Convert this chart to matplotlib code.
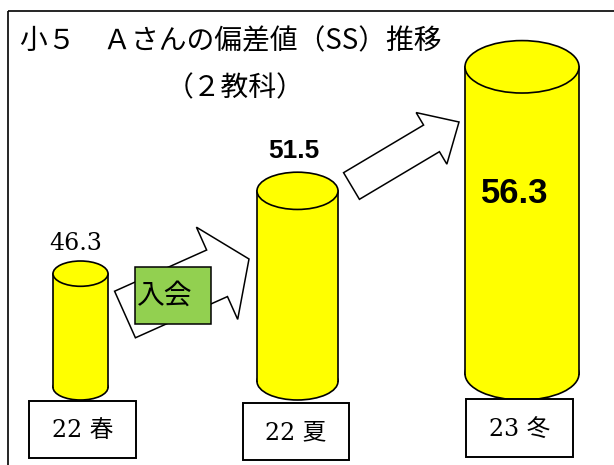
import numpy as np
import matplotlib
matplotlib.use("Agg")
import matplotlib.pyplot as plt
from matplotlib.patches import Ellipse, Rectangle, Polygon

# data
terms = ["22 春", "22 夏", "23 冬"]
scores = [46.3, 51.5, 56.3]
title1 = "小５　Ａさんの偏差値（SS）推移"
title2 = "（２教科）"
badge = "入会"

W, H = 614, 465
BASE = 400  # pixel row where the cylinders stand

fig = plt.figure(figsize=(W / 100, H / 100), dpi=100)
ax = fig.add_axes([0, 0, 1, 1])
ax.set_xlim(0, W)
ax.set_ylim(H, 0)
ax.axis("off")

# value axis: cylinders grow exponentially with the score in the original
k, v_ref, h_ref = 0.095, 46.3, 139.0
fwd = lambda v: np.exp(k * (np.asarray(v, float) - v_ref))
inv = lambda y: np.log(np.maximum(np.asarray(y, float), 1e-12)) / k + v_ref
axv = fig.add_axes([0, (H - BASE) / H, 1, BASE / H])
axv.set_yscale("function", functions=(fwd, inv))
axv.set_xlim(0, W)
axv.set_ylim(inv(1e-6), inv(BASE / h_ref))
axv.axis("off")
axv.patch.set_alpha(0)

def to_px(x, v):
    disp = axv.transData.transform((x, v))
    return ax.transData.inverted().transform(disp)

# frame (only top and left edges visible)
ax.plot([8, W], [11, 11], color="black", lw=1.2, solid_capstyle="butt")
ax.plot([8, 8], [11, H], color="black", lw=1.2, solid_capstyle="butt")

# titles
jp = "Noto Sans CJK JP"
ax.text(20, 41, title1, fontsize=20, family=[jp], va="center", ha="left")
ax.text(166, 88, title2, fontsize=20, family=[jp], va="center", ha="left")

def block_arrow(tail, tip, shaft_w, head_w, head_len):
    tail = np.array(tail, float); tip = np.array(tip, float)
    d = tip - tail
    d = d / np.hypot(*d)
    n = np.array([d[1], -d[0]])  # points "up" on screen for rightward arrows
    base = tip - d * head_len
    pts = [tail + n * shaft_w / 2, base + n * shaft_w / 2, base + n * head_w / 2,
           tip, base - n * head_w / 2, base - n * shaft_w / 2, tail - n * shaft_w / 2]
    return Polygon(pts, closed=True, facecolor="white", edgecolor="black", lw=1.1, zorder=2)

ax.add_patch(block_arrow((125, 314.5), (249, 259), 51, 101, 35))
ax.add_patch(block_arrow((351.5, 186), (459, 122), 31, 60, 32))

# 入会 badge
ax.add_patch(Rectangle((135, 267), 76, 57, facecolor="#92D050", edgecolor="black", lw=1.1, zorder=3))
ax.text(137, 296, badge, fontsize=20, family=["DejaVu Serif", jp], va="center", ha="left", zorder=4)

# cylinders
centers = [80.5, 297.5, 522]
widths = [55, 81, 114]
yellow = "#FFFF00"
for cx, w, v in zip(centers, widths, scores):
    ry = 0.23 * w
    top_edge = to_px(cx, v)[1]
    top_c = top_edge + ry
    bot_c = BASE - ry
    ax.add_patch(Ellipse((cx, bot_c), w, 2 * ry, facecolor=yellow, edgecolor="black", lw=1.2, zorder=5))
    ax.add_patch(Rectangle((cx - w / 2, top_c), w, bot_c - top_c, facecolor=yellow, edgecolor="none", zorder=6))
    ax.plot([cx - w / 2, cx - w / 2], [top_c, bot_c], color="black", lw=1.2, zorder=7)
    ax.plot([cx + w / 2, cx + w / 2], [top_c, bot_c], color="black", lw=1.2, zorder=7)
    ax.add_patch(Ellipse((cx, top_c), w, 2 * ry, facecolor=yellow, edgecolor="black", lw=1.2, zorder=8))

# score labels
ax.text(76, 243, f"{scores[0]}", fontsize=17, family="DejaVu Serif", ha="center", va="center", zorder=9)
ax.text(294, 151, f"{scores[1]}", fontsize=19, family="Liberation Sans", weight="bold",
        ha="center", va="center", zorder=9)
ax.text(515, 193, f"{scores[2]}", fontsize=25, family="Liberation Sans", weight="bold",
        ha="center", va="center", zorder=9)

# term boxes
boxes = [(29, 401, 107, 57), (243, 403, 106, 57), (466, 399, 107, 58)]
for (bx, by, bw, bh), t in zip(boxes, terms):
    ax.add_patch(Rectangle((bx, by), bw, bh, facecolor="white", edgecolor="black", lw=1.4, zorder=9))
    ax.text(bx + bw / 2, by + bh / 2 + 1, t, fontsize=17, family=["DejaVu Serif", jp],
            ha="center", va="center", zorder=10)

fig.savefig("out.png", dpi=100)
